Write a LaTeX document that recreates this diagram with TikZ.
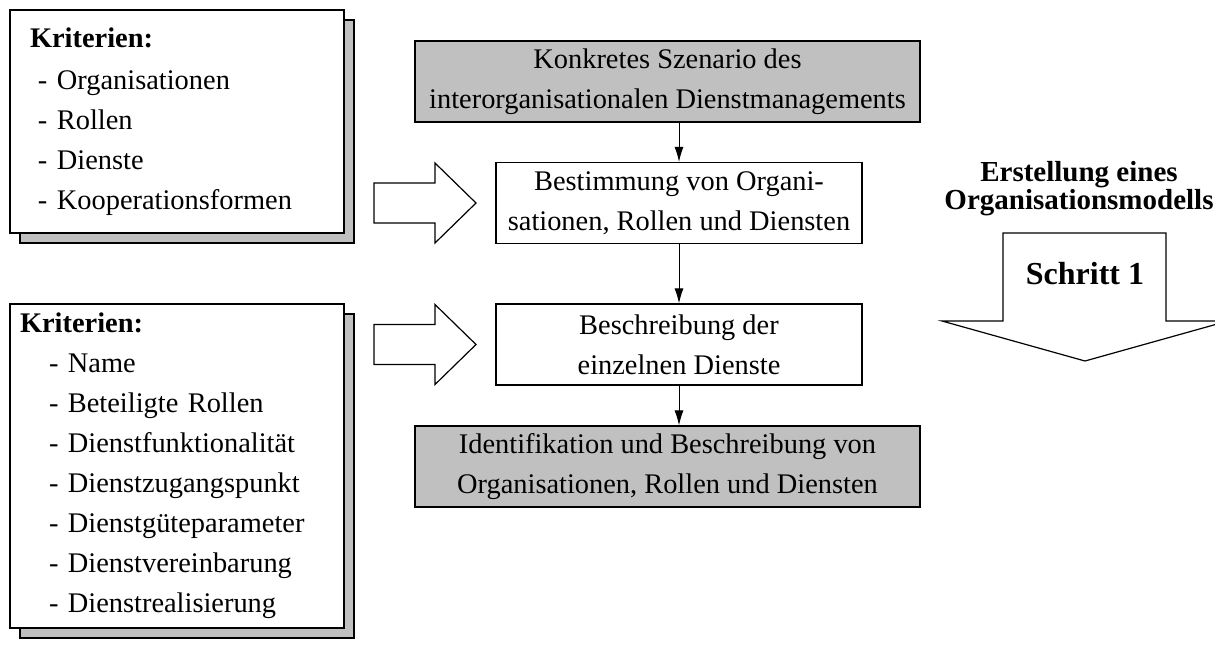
\documentclass[tikz,border=0pt]{standalone}
\usepackage{fontspec}
\setmainfont{Liberation Serif}
\usetikzlibrary{arrows.meta,shadows}
\definecolor{boxgray}{RGB}{192,192,192}

\begin{document}
\begin{tikzpicture}[x=0.5pt,y=-0.5pt,
    font=\fontsize{14.2}{20}\selectfont,
    stepnode/.style={draw, line width=0.6pt, minimum height=40.5pt, align=center, inner sep=0pt},
    critbox/.style={draw, fill=white, line width=0.6pt, align=left, inner ysep=0pt,
        copy shadow={shadow xshift=5pt, shadow yshift=-5pt, fill=boxgray, draw=black}},
    flow/.style={-{Latex[length=7.5pt,width=4.5pt]}, line width=0.5pt},
    hollow/.style={draw, fill=white, line width=0.6pt}]
    \useasboundingbox (0,0) rectangle (1215,644);

    % criteria lists on the left
    \node[critbox, minimum width=167pt, minimum height=111.5pt, text width=147pt, inner xsep=10pt]
        (krit1) at (177,121.5) {\textbf{Kriterien:}\\[1pt]
        \hspace*{4pt}- Organisationen\\
        \hspace*{4pt}- Rollen\\
        \hspace*{4pt}- Dienste\\
        \hspace*{4pt}- Kooperationsformen};
    \node[critbox, minimum width=167pt, minimum height=162pt, text width=157pt, inner xsep=5pt]
        (krit2) at (177,466) {\textbf{Kriterien:}\\
        \hspace*{14.5pt}- Name\\
        \hspace*{14.5pt}- Beteiligte Rollen\\
        \hspace*{14.5pt}- Dienstfunktionalität\\
        \hspace*{14.5pt}- Dienstzugangspunkt\\
        \hspace*{14.5pt}- Dienstgüteparameter\\
        \hspace*{14.5pt}- Dienstvereinbarung\\
        \hspace*{14.5pt}- Dienstrealisierung};

    % flow in the middle
    \node[stepnode, fill=boxgray, minimum width=252.5pt] (szen) at (667.5,81.5)
        {Konkretes Szenario des\\interorganisationalen Dienstmanagements};
    \node[stepnode, minimum width=183pt] (best) at (679,203)
        {Bestimmung von Organi-\\sationen, Rollen und Diensten};
    \node[stepnode, minimum width=183pt] (besch) at (679,344.5)
        {Beschreibung der\\einzelnen Dienste};
    \node[stepnode, fill=boxgray, minimum width=252.5pt] (ident) at (667.5,466.5)
        {Identifikation und Beschreibung von\\Organisationen, Rollen und Diensten};

    \draw[flow] (best.north |- szen.south) -- (best.north);
    \draw[flow] (best) -- (besch);
    \draw[flow] (besch.south) -- (besch.south |- ident.north);

    % hollow arrows feeding the criteria in
    \foreach \y in {203,344.5}
        \draw[hollow] (374,\y-20) -- (435,\y-20) -- (435,\y-40) -- (476,\y)
            -- (435,\y+40) -- (435,\y+20) -- (374,\y+20) -- cycle;

    % step arrow on the right
    \draw[hollow] (1003,233) -- (1166,233) -- (1166,321) -- (1228,321) -- (1085,361)
        -- (942,321) -- (1003,321) -- cycle;
    \node[font=\bfseries\fontsize{14.5}{14}\selectfont, align=center] (titel) at (1079,189)
        {Erstellung eines\\Organisationsmodells};
    \node[font=\bfseries\fontsize{16}{18}\selectfont] (schritt) at (1085,274) {Schritt 1};
\end{tikzpicture}
\end{document}
